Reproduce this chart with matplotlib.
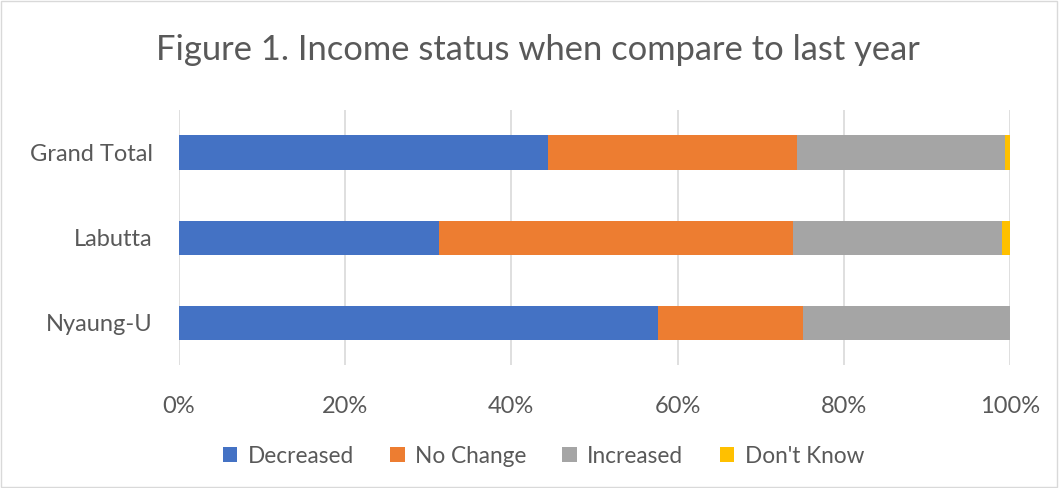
import matplotlib
matplotlib.use("Agg")
import matplotlib.pyplot as plt
from matplotlib.patches import Rectangle
from matplotlib.ticker import PercentFormatter

categories = ["Nyaung-U", "Labutta", "Grand Total"]
series_names = ["Decreased", "No Change", "Increased", "Don't Know"]
decreased = [57.6, 31.3, 44.4]
no_change = [17.5, 42.6, 30.0]
increased = [24.9, 25.1, 25.0]
dont_know = [0.0, 1.0, 0.6]
colors = ["#4472C4", "#ED7D31", "#A5A5A5", "#FFC000"]
x_ticks = [0, 20, 40, 60, 80, 100]

plt.rcParams['font.family'] = ['Lato', 'DejaVu Sans']

fig = plt.figure(figsize=(10.59, 4.88), dpi=100)
ax = fig.add_axes([0.169, 0.252, 0.7846, 0.5226])

values = [decreased, no_change, increased, dont_know]
left = [0.0] * len(categories)
for name, vals, c in zip(series_names, values, colors):
    ax.barh(categories, vals, left=left, height=0.4, color=c, label=name, zorder=3)
    left = [l + v for l, v in zip(left, vals)]

ax.set_xlim(0, 100)
ax.set_ylim(-0.5, 2.5)
ax.set_xticks(x_ticks)
ax.xaxis.set_major_formatter(PercentFormatter(decimals=0))
ax.grid(axis='x', color='#D9D9D9', linewidth=1.2, zorder=0)
for s in ax.spines.values():
    s.set_visible(False)
ax.tick_params(axis='both', length=0, labelsize=17, labelcolor='#595959')
ax.tick_params(axis='x', pad=22)
ax.tick_params(axis='y', pad=19)

fig.suptitle("Figure 1. Income status when compare to last year", x=0.508, y=0.93,
             fontsize=24.8, color='#595959')

leg = fig.legend(loc='center', bbox_to_anchor=(0.513, 0.065), ncol=4, frameon=False,
                 fontsize=16.3, handlelength=0.65, handleheight=0.65, columnspacing=1.6,
                 handletextpad=0.45)
for t in leg.get_texts():
    t.set_color('#595959')

fig.patches.append(Rectangle((0.001, 0.002), 0.997, 0.996, transform=fig.transFigure,
                             fill=False, edgecolor='#D9D9D9', linewidth=1))

fig.savefig("out.png", dpi=100)
